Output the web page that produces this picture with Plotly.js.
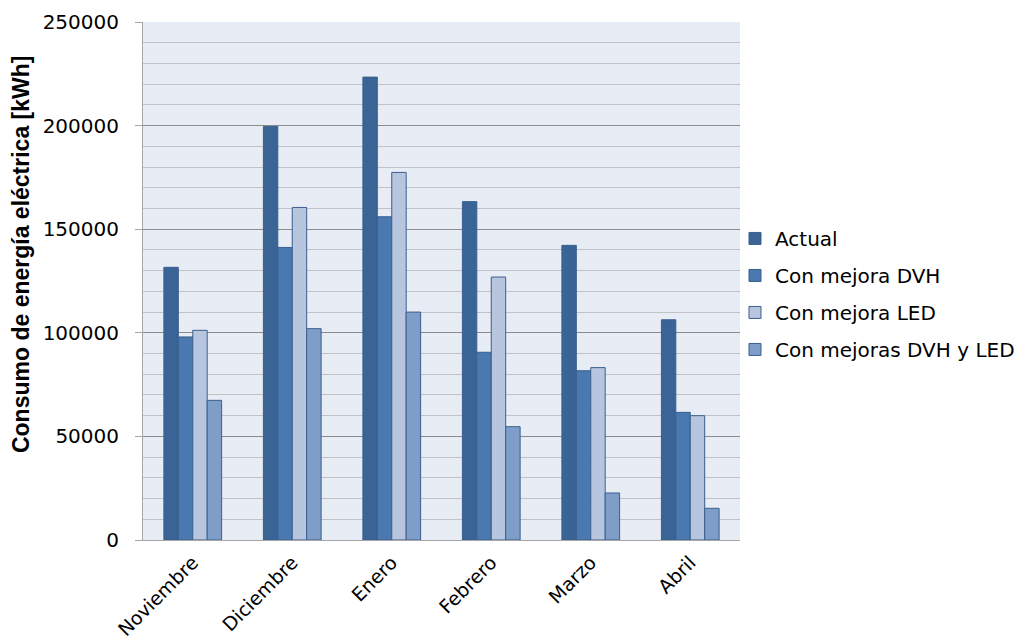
<!DOCTYPE html>
<html>
<head>
<meta charset="utf-8">
<script src="https://cdn.plot.ly/plotly-3.0.1.min.js"></script>
<style>html,body{margin:0;padding:0;background:#fff;}#chart{width:1024px;height:644px;}</style>
</head>
<body>
<div id="chart"></div>
<script>
const months = ["Noviembre", "Diciembre", "Enero", "Febrero", "Marzo", "Abril"];
const seriesNames = ["Actual", "Con mejora DVH", "Con mejora LED", "Con mejoras DVH y LED"];
const actual = [131600, 199600, 223400, 163300, 142200, 106300];
const mejoraDVH = [98000, 141200, 156000, 90600, 81700, 61600];
const mejoraLED = [101200, 160500, 177400, 126900, 83200, 60000];
const mejorasDVHyLED = [67400, 102000, 110000, 54700, 22700, 15300];
const yTitle = "Consumo de energía eléctrica [kWh]";

const colors = ["#3B6496", "#4A78B0", "#B7C5DF", "#7F9DC9"];
const allValues = [actual, mejoraDVH, mejoraLED, mejorasDVHyLED];

const traces = allValues.map((vals, i) => ({
  type: "bar",
  name: seriesNames[i],
  x: months,
  y: vals,
  legendgroup: "g" + i,
  marker: { color: colors[i], line: { color: "#3A5F8E", width: 1 } },
  hoverinfo: "x+y+name"
}));

const tickFont = { family: "DejaVu Sans, sans-serif", size: 20, color: "#000" };

const layout = {
  width: 1024, height: 644,
  margin: { l: 143, r: 284, t: 22, b: 104, autoexpand: false },
  paper_bgcolor: "#ffffff",
  plot_bgcolor: "#E8ECF4",
  barmode: "group",
  bargap: 0.42,
  bargroupgap: 0,
  font: tickFont,
  xaxis: {
    tickangle: -45,
    showline: true, linecolor: "#A6A6A6", linewidth: 1,
    ticks: "", showgrid: false,
    ticklabelstandoff: 3,
    automargin: false,
    tickfont: { family: "DejaVu Sans, sans-serif", size: 19, color: "#000" }
  },
  yaxis: {
    range: [0, 250000],
    dtick: 50000,
    tickformat: "d",
    showline: true, linecolor: "#A6A6A6", linewidth: 1,
    ticks: "outside", ticklen: 7, tickcolor: "#A6A6A6",
    ticklabelstandoff: 12,
    automargin: false,
    gridcolor: "#8C8C8C", gridwidth: 1,
    zeroline: false,
    minor: { dtick: 10000, showgrid: true, gridcolor: "#C0C2C6", gridwidth: 1 },
    tickfont: tickFont
  },
  annotations: [{
    text: yTitle,
    xref: "paper", yref: "paper",
    x: -0.2044, y: 0.552,
    xanchor: "center", yanchor: "middle",
    textangle: -90,
    showarrow: false,
    font: { family: "Liberation Sans, Arial, sans-serif", size: 23, weight: "bold", color: "#000" }
  }],
  legend: {
    x: 0.9916, xanchor: "left",
    y: 0.475, yanchor: "middle",
    font: tickFont,
    tracegroupgap: 8,
    traceorder: "grouped",
    bgcolor: "rgba(0,0,0,0)"
  },
  showlegend: true
};

Plotly.newPlot("chart", traces, layout, { displayModeBar: false, staticPlot: true });
</script>
</body>
</html>
